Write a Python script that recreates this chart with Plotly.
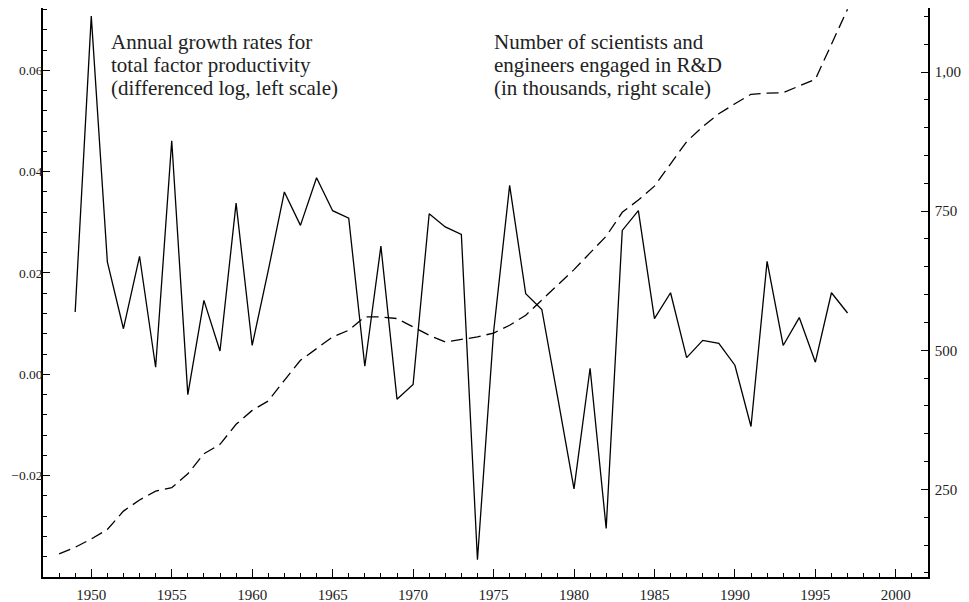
import plotly.graph_objects as go

# ---- data ----
tfp_years = list(range(1949, 1998))
tfp_growth = [0.0123, 0.0707, 0.0222, 0.0090, 0.0233, 0.0014, 0.0461, -0.0040, 0.0146, 0.0046,
              0.0338, 0.0057, 0.0205, 0.0360, 0.0294, 0.0388, 0.0323, 0.0308, 0.0016, 0.0253,
              -0.0049, -0.0020, 0.0317, 0.0291, 0.0276, -0.0366, 0.0083, 0.0373, 0.0159, 0.0128,
              -0.0048, -0.0226, 0.0012, -0.0304, 0.0284, 0.0323, 0.0110, 0.0161, 0.0033, 0.0067,
              0.0061, 0.0018, -0.0103, 0.0223, 0.0057, 0.0112, 0.0024, 0.0161, 0.0121]

rd_years = list(range(1948, 1998))
rd_scientists = [134, 146, 161, 178, 211, 231, 247, 253, 278, 314,
                 331, 367, 392, 409, 446, 482, 503, 524, 536, 560,
                 560, 557, 542, 527, 515, 519, 524, 531, 545, 563,
                 590, 617, 645, 675, 705, 748, 770, 795, 835, 875,
                 902, 925, 943, 960, 962, 963, 975, 987, 1050, 1113]

x_tickvals = [1950, 1955, 1960, 1965, 1970, 1975, 1980, 1985, 1990, 1995, 2000]
y_tickvals = [-0.02, 0.0, 0.02, 0.04, 0.06]
y2_tickvals = [250, 500, 750, 1000]
y2_ticktext = ["250", "500", "750", "1,000"]

left_label = ["Annual growth rates for", "total factor productivity", "(differenced log, left scale)"]
right_label = ["Number of scientists and", "engineers engaged in R&D", "(in thousands, right scale)"]

FONT = "Liberation Serif"

fig = go.Figure()
fig.add_trace(go.Scatter(x=tfp_years, y=tfp_growth, mode="lines",
                         line=dict(color="black", width=1.3), yaxis="y", showlegend=False))
fig.add_trace(go.Scatter(x=rd_years, y=rd_scientists, mode="lines",
                         line=dict(color="black", width=1.3, dash="12px,6px"),
                         yaxis="y2", showlegend=False))

axis_common = dict(showgrid=False, zeroline=False, showline=True, linecolor="black",
                   linewidth=1.5, ticks="inside", tickcolor="black", tickwidth=1.2,
                   automargin=False)

# the page body adds an 8px offset, so the figure is 8px smaller than the window
fig.update_layout(
    width=961, height=594,
    margin=dict(l=35, r=41, t=0, b=25),
    paper_bgcolor="white", plot_bgcolor="white",
    xaxis=dict(range=[1947, 2002], tickvals=x_tickvals, ticklen=8,
               minor=dict(dtick=1, tick0=1947, ticklen=4, ticks="inside", tickcolor="black"),
               ticklabelstandoff=3, tickfont=dict(family=FONT, size=15, color="#222"),
               **axis_common),
    yaxis=dict(range=[-0.04, 0.0723], tickvals=y_tickvals, tickformat=".2f", ticklen=7,
               minor=dict(dtick=0.004, tick0=0, ticklen=4, ticks="inside", tickcolor="black"),
               ticklabelstandoff=-4, tickfont=dict(family=FONT, size=13.5, color="#222"),
               **axis_common),
    yaxis2=dict(range=[92.6, 1115.1], overlaying="y", side="right", tickvals=y2_tickvals,
                ticktext=y2_ticktext, ticklen=7,
                minor=dict(dtick=50, tick0=0, ticklen=4, ticks="inside", tickcolor="black"),
                ticklabelstandoff=2, tickfont=dict(family=FONT, size=15, color="#222"),
                **axis_common),
)

# plot area spans window pixels y 8..577 and x 43..928
def py(abs_y):
    return (577 - abs_y) / 569

def px(abs_x):
    return (abs_x - 43) / 885

line_y = [py(41.7), py(65), py(88.3)]
for i, txt in enumerate(left_label):
    fig.add_annotation(x=px(109.7), y=line_y[i], xref="paper", yref="paper", text=txt,
                       showarrow=False, xanchor="left", yanchor="middle",
                       font=dict(family=FONT, size=21, color="#222"), borderpad=0)
for i, txt in enumerate(right_label):
    fig.add_annotation(x=px(493), y=line_y[i], xref="paper", yref="paper", text=txt,
                       showarrow=False, xanchor="left", yanchor="middle",
                       font=dict(family=FONT, size=21, color="#222"), borderpad=0)

fig.write_html("out.html")
